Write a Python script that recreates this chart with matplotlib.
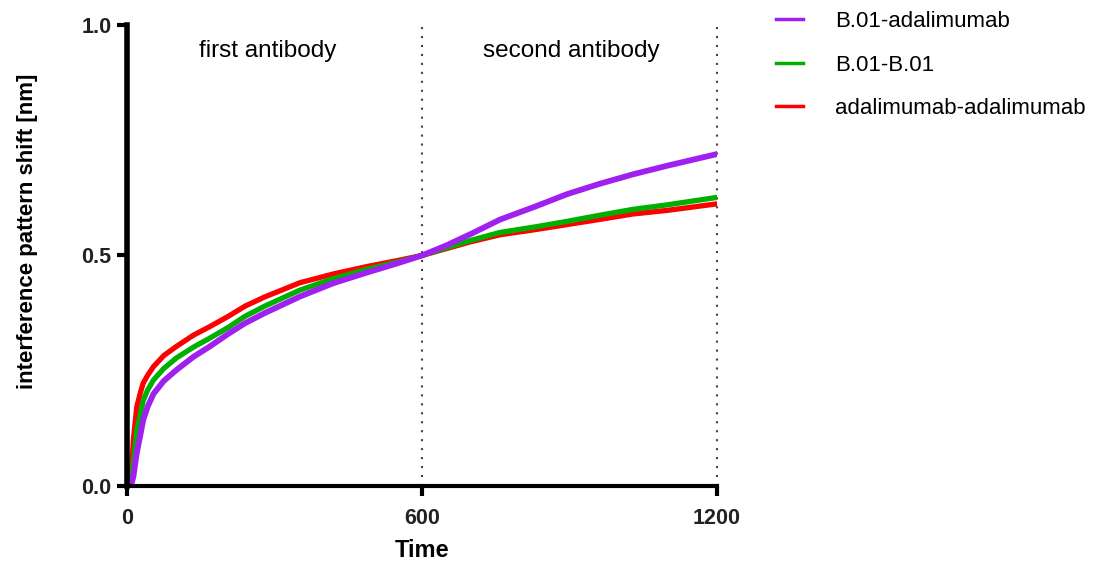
import matplotlib.pyplot as plt

plt.rcParams['font.family'] = ['Liberation Sans', 'DejaVu Sans']

# time points (s) and response (nm)
t = [0, 8, 13, 20, 28, 33, 42, 54, 75, 101, 135, 169, 206, 240, 280, 352, 420, 488, 550, 600,
     650, 700, 759, 830, 895, 960, 1029, 1100, 1200]
b01_adalimumab = [0, 0, 0.02, 0.072, 0.115, 0.143, 0.172, 0.200, 0.228, 0.252, 0.280, 0.303,
                  0.330, 0.353, 0.375, 0.411, 0.440, 0.463, 0.483, 0.500,
                  0.522, 0.547, 0.578, 0.606, 0.633, 0.655, 0.676, 0.695, 0.720]
b01_b01 = [0, 0, 0.05, 0.120, 0.160, 0.185, 0.208, 0.230, 0.255, 0.278, 0.301, 0.321,
           0.344, 0.368, 0.390, 0.425, 0.450, 0.470, 0.486, 0.500,
           0.517, 0.533, 0.550, 0.562, 0.574, 0.587, 0.600, 0.610, 0.626]
adalimumab_adalimumab = [0, 0, 0.10, 0.172, 0.205, 0.223, 0.240, 0.259, 0.283, 0.303, 0.327,
                         0.346, 0.368, 0.390, 0.410, 0.441, 0.460, 0.476, 0.489, 0.500,
                         0.515, 0.530, 0.545, 0.556, 0.567, 0.578, 0.590, 0.598, 0.612]

labels = ['B.01-adalimumab', 'B.01-B.01', 'adalimumab-adalimumab']
colors = ['#a020f0', '#00b000', '#ff0000']
phases = ['first antibody', 'second antibody']
phase_ends = [600, 1200]

fig = plt.figure(figsize=(11.03, 5.68), dpi=100)
ax = fig.add_axes([0.1151, 0.1444, 0.5349, 0.8116])

series = [b01_adalimumab, b01_b01, adalimumab_adalimumab]
handles = [None] * 3
for i in [2, 1, 0]:
    h, = ax.plot(t, series[i], color=colors[i], lw=4.2 if i == 0 else 3.8,
                 solid_joinstyle='round', label=labels[i])
    handles[i] = h

for xe in phase_ends:
    ax.plot([xe, xe], [0, 1.0], color='#444444', lw=1.5, ls=(0, (1, 3.3)),
            zorder=1, clip_on=False)

ax.text(286, 0.944, phases[0], ha='center', va='center', fontsize=17.5)
ax.text(904, 0.944, phases[1], ha='center', va='center', fontsize=17.5)

ax.set_xlim(0, 1200)
ax.set_ylim(0, 1.0)
ax.set_xticks([0, 600, 1200])
ax.set_yticks([0, 0.5, 1.0])
ax.set_yticklabels(['0.0', '0.5', '1.0'])
for s in ['top', 'right']:
    ax.spines[s].set_visible(False)
ax.spines['left'].set_linewidth(4)
ax.spines['bottom'].set_linewidth(3)
ax.tick_params(axis='both', direction='out', length=7, width=3, labelsize=15.5,
               labelcolor='#222222')
ax.tick_params(axis='x', pad=9)
ax.tick_params(axis='y', pad=4)
for lab in ax.get_xticklabels() + ax.get_yticklabels():
    lab.set_fontweight('bold')
ax.set_xlabel('Time', fontsize=17, fontweight='bold')
ax.xaxis.set_label_coords(0.5, -0.115)
ax.set_ylabel('interference pattern shift [nm]', fontsize=16, fontweight='bold')
ax.yaxis.set_label_coords(-0.151, 0.553)

fig.legend(handles=handles, labels=labels, loc='upper left',
           bbox_to_anchor=(0.6857, 1.016), frameon=False, fontsize=16,
           handlelength=1.2, labelspacing=1.02, handletextpad=1.45)
for lh in fig.legends[0].get_lines():
    lh.set_linewidth(2.5)

fig.savefig('out.png', dpi=100)
